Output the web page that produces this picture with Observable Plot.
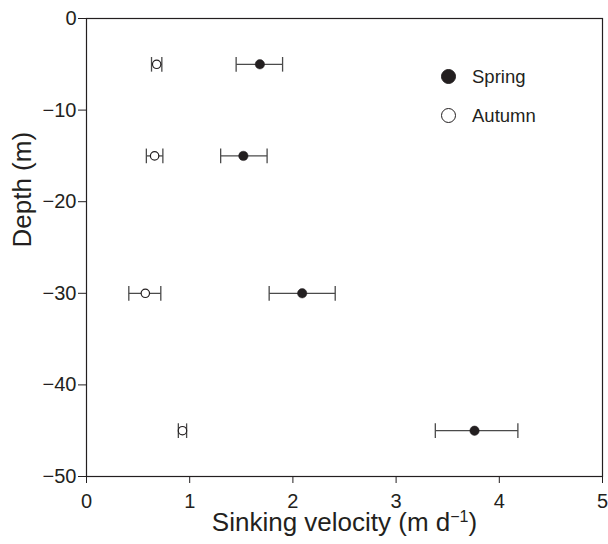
<!DOCTYPE html>
<html>
<head>
<meta charset="utf-8">
<script src="https://cdn.jsdelivr.net/npm/d3@7"></script>
<script src="https://cdn.jsdelivr.net/npm/@observablehq/plot@0.6"></script>
<style>
  body { margin: 0; background: #fff; }
  #wrap { position: relative; width: 608px; height: 544px; font-family: "Liberation Sans", Arial, sans-serif; }
  .leg { position: absolute; left: 441px; height: 20px; line-height: 20px; font-size: 18.5px; color: #231f20; display: flex; align-items: center; }
  .leg span.sw { display: inline-block; width: 15px; height: 15px; border-radius: 50%; box-sizing: border-box; border: 1.4px solid #231f20; margin-right: 16px; }
</style>
</head>
<body>
<div id="wrap"></div>
<script>
const depths = [-5, -15, -30, -45];
const springMean = [1.68, 1.52, 2.09, 3.76];
const springLo   = [1.45, 1.30, 1.77, 3.38];
const springHi   = [1.90, 1.75, 2.41, 4.18];
const autumnMean = [0.68, 0.66, 0.57, 0.93];
const autumnLo   = [0.63, 0.58, 0.41, 0.89];
const autumnHi   = [0.73, 0.74, 0.72, 0.97];
const xTicks = [0, 1, 2, 3, 4, 5];
const yTicks = [0, -10, -20, -30, -40, -50];
const seasons = ["Spring", "Autumn"];
const xLabelMain = "Sinking velocity (m d";
const xLabelSup = "\u22121";
const xLabelEnd = ")";
const yLabel = "Depth (m)";

const rows = [];
depths.forEach((d, i) => {
  rows.push({season: "Spring", depth: d, v: springMean[i], lo: springLo[i], hi: springHi[i]});
  rows.push({season: "Autumn", depth: d, v: autumnMean[i], lo: autumnLo[i], hi: autumnHi[i]});
});
const cap = 0.8;
const ink = "#231f20";
const bar = "#4a4a4a";

const plot = Plot.plot({
  width: 608,
  height: 544,
  marginLeft: 86,
  marginRight: 6,
  marginTop: 18,
  marginBottom: 68,
  style: {fontFamily: "Liberation Sans, Arial, sans-serif", fontSize: "20px", color: ink, background: "white"},
  x: {domain: [0, 5]},
  y: {domain: [-50, 0]},
  marks: [
    Plot.frame({stroke: ink, strokeWidth: 1.2}),
    Plot.axisX({ticks: xTicks, tickFormat: d => String(d), tickSize: 7, tickPadding: 10, fontSize: 20, label: null, stroke: ink}),
    Plot.axisY({ticks: yTicks, tickFormat: d => d < 0 ? "\u2212" + (-d) : String(d), tickSize: 8, tickPadding: 2, fontSize: 20, label: null, stroke: ink}),
    Plot.link(rows, {x1: "lo", x2: "hi", y1: "depth", y2: "depth", stroke: bar, strokeWidth: 1.3}),
    Plot.link(rows, {x1: "lo", x2: "lo", y1: d => d.depth - cap, y2: d => d.depth + cap, stroke: bar, strokeWidth: 1.3}),
    Plot.link(rows, {x1: "hi", x2: "hi", y1: d => d.depth - cap, y2: d => d.depth + cap, stroke: bar, strokeWidth: 1.3}),
    Plot.dot(rows.filter(d => d.season === "Spring"), {x: "v", y: "depth", r: 4.7, fill: ink, stroke: ink, strokeWidth: 0.5}),
    Plot.dot(rows.filter(d => d.season === "Autumn"), {x: "v", y: "depth", r: 4.2, fill: "white", stroke: ink, strokeWidth: 1.2}),
    Plot.text([xLabelMain + xLabelSup + xLabelEnd], {frameAnchor: "bottom", dy: 54.5, fontSize: 26, fill: ink, className: "xlabel"}),
    Plot.text([yLabel], {frameAnchor: "left", rotate: -90, dx: -64, fontSize: 26, fill: ink})
  ]
});

// render superscript of the x label as a real tspan
const xl = plot.querySelector(".xlabel text");
if (xl) {
  xl.textContent = "";
  const ns = "http://www.w3.org/2000/svg";
  const t1 = document.createElementNS(ns, "tspan"); t1.textContent = xLabelMain;
  const t2 = document.createElementNS(ns, "tspan"); t2.textContent = xLabelSup;
  t2.setAttribute("font-size", "16"); t2.setAttribute("dy", "-9");
  const t3 = document.createElementNS(ns, "tspan"); t3.textContent = xLabelEnd;
  t3.setAttribute("dy", "9");
  xl.append(t1, t2, t3);
}

const wrap = document.getElementById("wrap");
wrap.appendChild(plot);
const legendTops = [66.6, 105.5];
seasons.forEach((s, i) => {
  const el = document.createElement("div");
  el.className = "leg";
  el.style.top = legendTops[i] + "px";
  const sw = document.createElement("span");
  sw.className = "sw";
  sw.style.background = s === "Spring" ? ink : "white";
  el.appendChild(sw);
  el.appendChild(document.createTextNode(s));
  wrap.appendChild(el);
});
</script>
</body>
</html>
